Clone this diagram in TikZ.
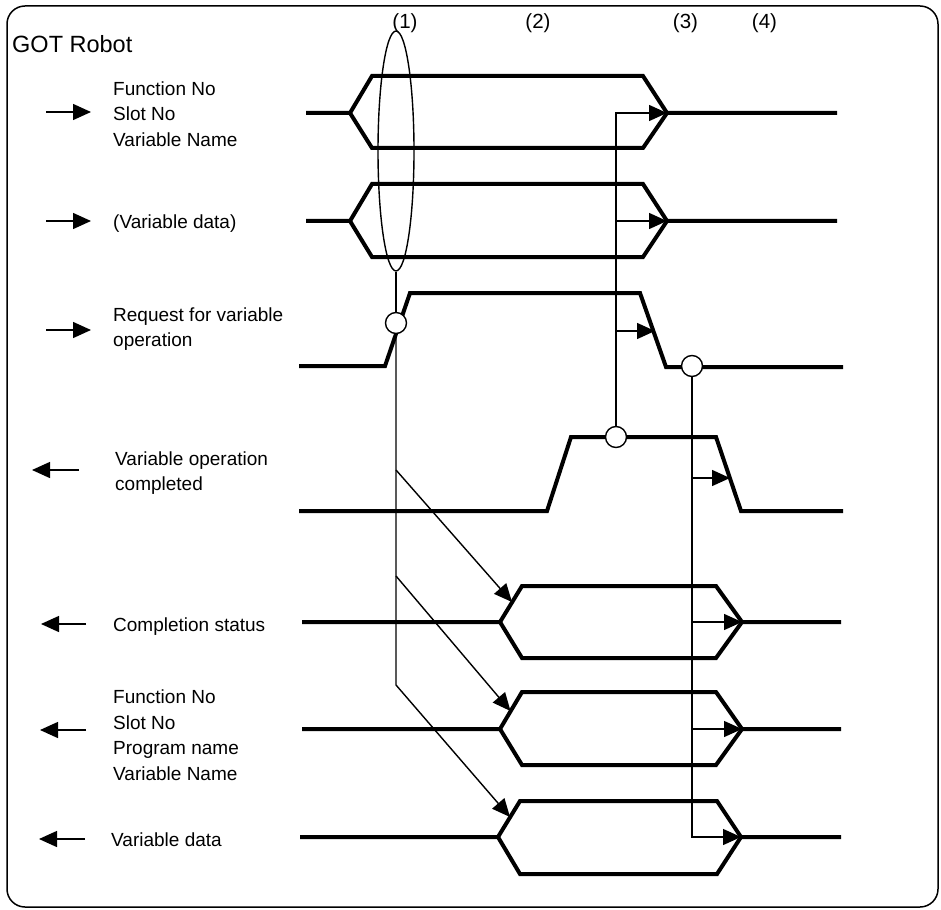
\documentclass[tikz,border=0pt]{standalone}
\usepackage{fontspec}
\setmainfont{Liberation Sans}
\usetikzlibrary{arrows.meta,shapes.geometric}
\begin{document}
\begin{tikzpicture}[x=1pt,y=-1pt,
  sig/.style={line width=4pt, line join=miter},
  thinline/.style={line width=1.4pt},
  arr/.style={thinline, -{Triangle[length=18pt,width=16pt]}},
  lbl/.style={font=\fontsize{19}{25.5}\selectfont, anchor=base west, inner sep=0pt},
  circ/.style={circle, draw, line width=1.4pt, fill=white, minimum size=21pt, inner sep=0pt},
  num/.style={font=\fontsize{20.5}{24}\selectfont, anchor=base, inner sep=0pt}]
\useasboundingbox (0,0) rectangle (941,909);
% frame
\draw[line width=1.5pt, rounded corners=18pt] (7,6) rectangle (938,907);
% titles
\node[lbl, font=\fontsize{23.5}{28}\selectfont] (title) at (12,53) {GOT Robot};
\node[num] (n1) at (405,29) {(1)};
\node[num] (n2) at (538,29) {(2)};
\node[num] (n3) at (685.5,29) {(3)};
\node[num] (n4) at (764.5,29) {(4)};
% labels
\node[lbl] (a1) at (113,95.5) {Function No};
\node[lbl] (a2) at (113,121) {Slot No};
\node[lbl] (a3) at (113,146.5) {Variable Name};
\node[lbl] (b1) at (113,228.5) {(Variable data)};
\node[lbl] (r1) at (113,321.5) {Request for variable};
\node[lbl] (r2) at (113,346.5) {operation};
\node[lbl] (o1) at (115,465.5) {Variable operation};
\node[lbl] (o2) at (115,490.5) {completed};
\node[lbl] (cs) at (113,631.5) {Completion status};
\node[lbl] (f1) at (113,703.5) {Function No};
\node[lbl] (f2) at (113,729) {Slot No};
\node[lbl] (f3) at (113,754.5) {Program name};
\node[lbl] (f4) at (113,780) {Variable Name};
\node[lbl] (vd) at (111,846.5) {Variable data};
% legend arrows
\coordinate (i1a) at (46,112); \coordinate (i1b) at (91,112);
\coordinate (i2a) at (46,221); \coordinate (i2b) at (91,221);
\coordinate (i3a) at (46,330); \coordinate (i3b) at (91,330);
\coordinate (o1a) at (79,470); \coordinate (o1b) at (32,470);
\coordinate (o2a) at (86,624); \coordinate (o2b) at (41,624);
\coordinate (o3a) at (86,730); \coordinate (o3b) at (40,730);
\coordinate (o4a) at (85,839); \coordinate (o4b) at (39,839);
\foreach \s/\e in {i1a/i1b,i2a/i2b,i3a/i3b,o1a/o1b,o2a/o2b,o3a/o3b,o4a/o4b}
  \draw[arr] (\s) -- (\e);
% signals
\draw[sig] (306,113) -- (350,113) -- (372,76) -- (643,76) -- (667,113) -- (837,113);
\draw[sig] (350,113) -- (372,148) -- (643,148) -- (667,113);
\draw[sig] (306,221) -- (350,221) -- (372,184) -- (643,184) -- (667,221) -- (837,221);
\draw[sig] (350,221) -- (372,257) -- (643,257) -- (667,221);
\draw[sig] (299,366) -- (385,366) -- (410,293) -- (640,293) -- (666,367) -- (843,367);
\draw[sig] (299,511) -- (547,511) -- (571,437) -- (716,437) -- (741,511) -- (843,511);
\draw[sig] (302,622) -- (500,622) -- (522,586) -- (716,586) -- (742,622) -- (841,622);
\draw[sig] (500,622) -- (522,658) -- (716,658) -- (742,622);
\draw[sig] (302,729) -- (500,729) -- (522,692) -- (716,692) -- (742,729) -- (841,729);
\draw[sig] (500,729) -- (522,765) -- (716,765) -- (742,729);
\draw[sig] (300,837) -- (498,837) -- (520,801) -- (717,801) -- (741,837) -- (841,837);
\draw[sig] (498,837) -- (520,874) -- (717,874) -- (741,837);
% ellipse and circles
\node[draw, thinline, ellipse, minimum width=36pt, minimum height=240pt, inner sep=0pt] (e1) at (396,151) {};
\node[circ] (c1) at (396,323) {};
\node[circ] (c2) at (616,437) {};
\node[circ] (c3) at (692,366) {};
% targets
\coordinate (t1) at (667,113);
\coordinate (t2) at (667,221);
\coordinate (t3) at (655,331);
\coordinate (t4) at (730,478);
\coordinate (t5) at (742,622);
\coordinate (t6) at (742,729);
\coordinate (t7) at (741,837);
\coordinate (d5) at (512,602);
\coordinate (d6) at (510.5,711);
\coordinate (d7) at (510,817);
\coordinate (v1) at (396,685);
\coordinate (p1) at (396,470);
\coordinate (p2) at (396,576);
\coordinate (b2) at (616,221);
\coordinate (b3) at (616,331);
\coordinate (q4) at (692,478);
\coordinate (q5) at (692,622);
\coordinate (q6) at (692,729);
% thin connectors
\draw[thinline] (e1.south) -- (c1.north);
\draw[arr] (c1.south) -- (v1) -- (d7);
\draw[arr] (p1) -- (d5);
\draw[arr] (p2) -- (d6);
\draw[arr] (c2.north) |- (t1);
\draw[arr] (b2) -- (t2);
\draw[arr] (b3) -- (t3);
\draw[arr] (c3.south) |- (t7);
\draw[arr] (q4) -- (t4);
\draw[arr] (q5) -- (t5);
\draw[arr] (q6) -- (t6);
\end{tikzpicture}
\end{document}
